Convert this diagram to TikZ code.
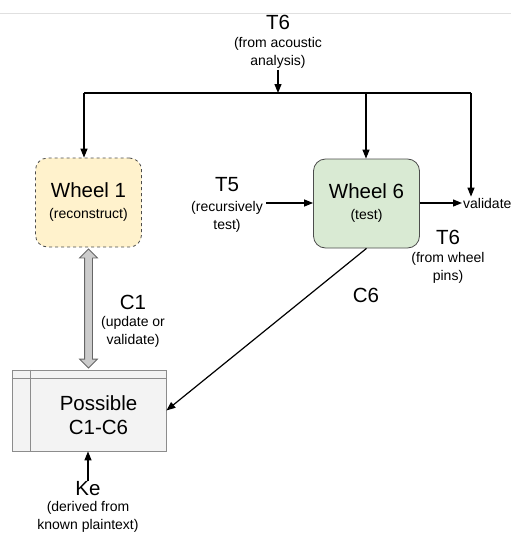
\documentclass[tikz,border=0pt]{standalone}
\usepackage{fontspec}
\setmainfont{Liberation Sans}
\usetikzlibrary{arrows.meta,shapes.arrows}
\definecolor{wheelyellow}{HTML}{FFF2CC}
\definecolor{wheelgreen}{HTML}{D9EAD3}
\definecolor{tablegray}{HTML}{F3F3F3}
\newcommand{\smalltxt}{\fontsize{14}{18}\selectfont}
\tikzset{
  big/.style={font=\fontsize{20.5}{24}\selectfont, inner sep=1pt},
  note/.style={font=\smalltxt, align=center, inner sep=1pt},
  wheel/.style={rounded corners=12pt, minimum width=106pt, minimum height=89pt,
    align=center, font=\fontsize{20.5}{21}\selectfont, draw=black!70, line width=0.8pt},
  flow/.style={-{Triangle[length=9pt,width=7pt]}, line width=1.2pt},
  fatarrow/.style={double arrow, draw=black!60, fill=black!20, line width=0.8pt,
    rotate=90, inner xsep=0pt, inner ysep=3.5pt, double arrow head extend=5pt,
    minimum height=119pt}
}

\begin{document}
\begin{tikzpicture}[x=1pt,y=-1pt]
  \useasboundingbox (0,0) rectangle (511,533);
  \draw[black!12, line width=0.8pt] (0,13) -- (511,13);

  % wheels and candidate table
  \node[wheel, fill=wheelyellow, dashed] (w1) at (88.5,202.5) {Wheel 1\\[0pt]{\smalltxt (reconstruct)}};
  \node[wheel, fill=wheelgreen] (w6) at (366.5,203.5) {Wheel 6\\[0pt]{\smalltxt (test)}};
  \node[draw=black!45, fill=tablegray, line width=0.8pt, minimum width=154pt, minimum height=81pt] (poss) at (89,410.5) {};
  \draw[black!45, line width=0.8pt] ([xshift=19pt]poss.north west) -- ([xshift=19pt]poss.south west);
  \draw[black!45, line width=0.8pt] ([yshift=-9pt]poss.north west) -- ([yshift=-9pt]poss.north east);
  \node[big, align=center] (posstxt) at (98.5,415) {Possible\\C1-C6};

  % labels
  \node[big] (t6a) at (278,22) {T6};
  \node[note] (t6anote) at (278,53) {(from acoustic\\analysis)};
  \node[big] (t5) at (227,185) {T5};
  \node[note] (t5note) at (227,216.5) {(recursively\\test)};
  \node[note, anchor=west] (val) at (462,203) {validate};
  \node[big] (t6b) at (448,237) {T6};
  \node[note] (t6bnote) at (448,267.5) {(from wheel\\pins)};
  \node[big] (c6) at (366,295) {C6};
  \node[big] (c1) at (133,302) {C1};
  \node[note] (c1note) at (133,331.5) {(update or\\validate)};
  \node[big] (ke) at (88,489) {Ke};
  \node[note] (kenote) at (88,516.5) {(derived from\\known plaintext)};

  % connectors
  \coordinate (top) at (278,93);
  \coordinate (jl) at (84,93);
  \coordinate (jm) at (366,93);
  \coordinate (jr) at (471,93);
  \coordinate (t5out) at (266,203);
  \draw[flow] (t6anote.south) -- (top);
  \draw[line width=1.2pt] (jl) -- (jr);
  \draw[flow] (jl) -- (jl |- w1.north);
  \draw[flow] (jm) -- (jm |- w6.north);
  \draw[flow] (jr) -- (jr |- val.north);
  \draw[flow] (t5out) -- (w6.west |- t5out);
  \draw[flow] (w6.east |- val.west) -- (val.west);
  \draw[flow] (w6.south) -- (poss.east);
  \draw[flow] (ke.north) -- (ke |- poss.south);
  \node[fatarrow] (c1arrow) at (88.5,308.5) {};
\end{tikzpicture}
\end{document}
